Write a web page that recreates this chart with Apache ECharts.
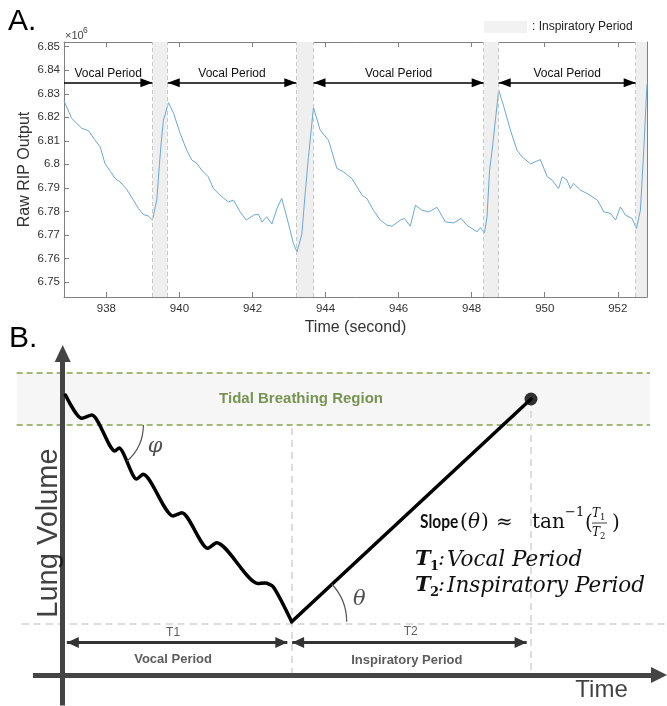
<!DOCTYPE html>
<html>
<head>
<meta charset="utf-8">
<title>RIP output and lung volume schematic</title>
<script src="https://cdn.jsdelivr.net/npm/echarts@6.0.0/dist/echarts.min.js"></script>
<style>
html, body { margin: 0; padding: 0; background: #fff; }
#chart { width: 667px; height: 706px; }
</style>
</head>
<body>
<div id="chart"></div>
<script>
// ---------------- Panel A data (x10^6) ----------------
const ripTime = [936.84, 937.05, 937.33, 937.51, 937.69, 937.83, 937.96, 938.24, 938.37, 938.56,
  938.74, 938.88, 939.01, 939.15, 939.26, 939.38, 939.45, 939.50, 939.56, 939.70,
  939.84, 940.02, 940.20, 940.34, 940.48, 940.61, 940.79, 940.93, 941.11, 941.34,
  941.48, 941.66, 941.83, 942.03, 942.16, 942.26, 942.39, 942.53, 942.67, 942.80,
  942.90, 943.03, 943.12, 943.22, 943.35, 943.44, 943.53, 943.67, 943.85, 944.08,
  944.31, 944.49, 944.72, 945.00, 945.13, 945.31, 945.50, 945.68, 945.82, 946.05,
  946.16, 946.32, 946.46, 946.64, 946.82, 946.91, 947.05, 947.28, 947.51, 947.71,
  947.87, 948.15, 948.24, 948.35, 948.42, 948.49, 948.56, 948.74, 948.88, 949.06,
  949.24, 949.38, 949.61, 949.88, 950.07, 950.20, 950.38, 950.48, 950.61, 950.70,
  950.79, 950.98, 951.16, 951.44, 951.62, 951.80, 951.94, 952.07, 952.21, 952.39,
  952.51, 952.62, 952.71, 952.80];
const ripValue = [6.8270, 6.8195, 6.8153, 6.8143, 6.8103, 6.8074, 6.8004, 6.7940, 6.7926, 6.7893,
  6.7848, 6.7812, 6.7787, 6.7780, 6.7763, 6.7848, 6.7995, 6.8090, 6.8186, 6.8262,
  6.8217, 6.8131, 6.8060, 6.8018, 6.8004, 6.7975, 6.7947, 6.7897, 6.7869, 6.7840,
  6.7848, 6.7798, 6.7763, 6.7784, 6.7788, 6.7755, 6.7777, 6.7746, 6.7812, 6.7855,
  6.7798, 6.7720, 6.7663, 6.7628, 6.7702, 6.7872, 6.8028, 6.8242, 6.8146, 6.8103,
  6.7983, 6.7968, 6.7940, 6.7869, 6.7855, 6.7805, 6.7763, 6.7741, 6.7737, 6.7763,
  6.7770, 6.7737, 6.7826, 6.7805, 6.7798, 6.7805, 6.7817, 6.7755, 6.7751, 6.7770,
  6.7741, 6.7713, 6.7731, 6.7709, 6.7776, 6.7975, 6.8060, 6.8316, 6.8245, 6.8146,
  6.8060, 6.8032, 6.8002, 6.8020, 6.7947, 6.7933, 6.7897, 6.7947, 6.7933, 6.7897,
  6.7919, 6.7890, 6.7876, 6.7848, 6.7798, 6.7791, 6.7763, 6.7819, 6.7784, 6.7770,
  6.7727, 6.7805, 6.8060, 6.8340];
const inspStart = [939.26, 943.20, 948.33, 952.49];
const inspEnd = [939.68, 943.67, 948.74, 952.80];
const vocalStart = [936.84, 939.68, 943.67, 948.74];
const vocalEnd = [939.26, 943.20, 948.33, 952.49];
const vocalLevel = 6.8347;
const xTickValues = [938, 940, 942, 944, 946, 948, 950, 952];
const yTickValues = [6.75, 6.76, 6.77, 6.78, 6.79, 6.80, 6.81, 6.82, 6.83, 6.84, 6.85];
const xRangeA = [936.84, 952.80];
const yRangeA = [6.7436, 6.852];

// ---------------- Panel B schematic (arbitrary time / volume units) ----------------
const descentT = [0.12, 0.83, 1.27, 2.28, 2.46, 3.23, 3.51, 4.82, 5.20, 6.34, 6.72, 8.53, 8.83, 9.20, 10.0];
const descentV = [28.0, 25.67, 26.0, 22.4, 22.7, 19.6, 20.07, 15.9, 16.23, 12.67, 13.23, 9.15, 9.2, 8.8, 5.33];
const inhaleT = [10.0, 20.45];
const inhaleV = [5.33, 27.6];
const tidalBand = [25.0, 30.23];
const t1Span = [0.18, 9.81];
const t2Span = [10.02, 20.26];
const spanLevel = 3.25;
const baselineV = 5.17;
const xRangeB = [-2.738, 26.39];
const yRangeB = [-3.1, 33.5];

// ---------------- build ----------------
const sans = 'Liberation Sans';
const serif = 'DejaVu Serif';
const axisGray = '#808080';
const ripData = ripTime.map((t, i) => [t, ripValue[i]]);
const descentData = descentT.map((t, i) => [t, descentV[i]]);
const inhaleData = inhaleT.map((t, i) => [t, inhaleV[i]]);

const headA = { symbol: 'triangle', symbolSize: [9, 12], symbolOffset: [0, '50%'] };
const vocalLines = vocalStart.map((s, i) => [
  Object.assign({ coord: [s, vocalLevel] }, i === 0 ? { symbol: 'none' } : headA),
  Object.assign({ coord: [vocalEnd[i], vocalLevel] }, headA, {
    lineStyle: { color: '#000', width: 1.5, type: 'solid' },
    label: { show: true, position: 'middle', formatter: 'Vocal Period', color: '#111', fontSize: 12, fontFamily: sans, distance: 3 }
  })
]);
const edgeLines = inspStart.concat(inspEnd.slice(0, 3)).map(v => ({
  xAxis: v, symbol: 'none',
  lineStyle: { color: '#c8c8c8', width: 1, type: [4, 3] },
  label: { show: false }
}));
const bands = inspStart.map((s, i) => [{ xAxis: s }, { xAxis: inspEnd[i] }]);

const greenDash = { color: '#86a34a', width: 1.5, type: [6, 4] };
const grayDash = { color: '#d2d2d2', width: 1.5, type: [7, 5] };
const headB = { symbol: 'triangle', symbolSize: [11, 12], symbolOffset: [0, '50%'] };
const spanStyle = { color: '#333', width: 3.2, type: 'solid' };
const axisB = { color: '#444', width: 5, type: 'solid' };

const bMarkLines = [
  [{ coord: [-2.01, tidalBand[0]] }, { coord: [25.65, tidalBand[0]], lineStyle: greenDash }],
  [{ coord: [-2.01, tidalBand[1]] }, { coord: [25.65, tidalBand[1]], lineStyle: greenDash }],
  [{ coord: [-1.79, baselineV] }, { coord: [26.35, baselineV], lineStyle: grayDash }],
  [{ coord: [inhaleT[0], 24.7] }, { coord: [inhaleT[0], 0], lineStyle: grayDash }],
  [{ coord: [inhaleT[1], inhaleV[1]] }, { coord: [inhaleT[1], 0], lineStyle: grayDash }],
  [Object.assign({ coord: [t1Span[0], spanLevel] }, headB), Object.assign({ coord: [t1Span[1], spanLevel], lineStyle: spanStyle }, headB)],
  [Object.assign({ coord: [t2Span[0], spanLevel] }, headB), Object.assign({ coord: [t2Span[1], spanLevel], lineStyle: spanStyle }, headB)],
  [{ coord: [-1.30, 0], symbol: 'none' }, { coord: [25.69, 0], symbol: 'triangle', symbolSize: [16, 16], symbolOffset: [0, '-50%'], lineStyle: axisB }],
  [{ coord: [0, -3.05], symbol: 'none' }, { coord: [0, 31.3], symbol: 'triangle', symbolSize: [16, 17], symbolOffset: [0, '-50%'], lineStyle: axisB }]
];

function lbl(x, y, text, style) {
  return { value: [x, y], label: Object.assign({ show: true, position: 'inside', formatter: text }, style) };
}
const bLabels = [
  lbl(10.41, 27.6, 'Tidal Breathing Region', { color: '#587a28', fontWeight: 'bold', fontSize: 15, fontFamily: sans }),
  lbl(4.03, 22.8, 'φ', { color: '#222', fontStyle: 'italic', fontSize: 21, fontFamily: serif }),
  lbl(12.95, 7.5, 'θ', { color: '#222', fontStyle: 'italic', fontSize: 21, fontFamily: serif }),
  lbl(4.82, 4.27, 'T1', { color: '#333', fontSize: 12, fontFamily: sans }),
  lbl(15.2, 4.3, 'T2', { color: '#333', fontSize: 12, fontFamily: sans }),
  lbl(4.82, 1.6, 'Vocal Period', { color: '#333', fontWeight: 'bold', fontSize: 13, fontFamily: sans }),
  lbl(15.03, 1.43, 'Inspiratory Period', { color: '#333', fontWeight: 'bold', fontSize: 13, fontFamily: sans }),
  lbl(23.53, -1.5, 'Time', { color: '#111', fontSize: 24, fontFamily: sans }),
  lbl(-0.6, 14.2, 'Lung Volume', { color: '#111', fontSize: 29, fontFamily: sans, rotate: 90 })
];

const option = {
  animation: false,
  backgroundColor: '#fff',
  textStyle: { fontFamily: sans },
  grid: [
    { left: 64, top: 42, width: 583, height: 255, show: false },
    { left: 0, top: 340, width: 667, height: 366, show: false }
  ],
  legend: {
    data: [{ name: ': Inspiratory Period', icon: 'rect' }],
    left: 484, top: 21, itemWidth: 43, itemHeight: 12, padding: 0, selectedMode: false,
    textStyle: { fontFamily: sans, fontSize: 12, color: '#222' }
  },
  xAxis: [
    {
      gridIndex: 0, type: 'value', min: xRangeA[0], max: xRangeA[1], position: 'bottom',
      axisLine: { show: true, onZero: false, lineStyle: { color: axisGray, width: 1 } },
      axisTick: { show: true, inside: true, length: 5, customValues: xTickValues, lineStyle: { color: axisGray } },
      axisLabel: { customValues: xTickValues, color: '#333', fontSize: 11.5, margin: 6, fontFamily: sans },
      splitLine: { show: false },
      name: 'Time (second)', nameLocation: 'middle', nameGap: 23,
      nameTextStyle: { fontSize: 16, color: '#333', fontFamily: sans }
    },
    {
      gridIndex: 0, type: 'value', min: xRangeA[0], max: xRangeA[1], position: 'top',
      axisLine: { show: true, onZero: false, lineStyle: { color: axisGray, width: 1 } },
      axisTick: { show: true, inside: true, length: 5, customValues: xTickValues, lineStyle: { color: axisGray } },
      axisLabel: { show: false }, splitLine: { show: false }
    },
    { gridIndex: 1, type: 'value', min: xRangeB[0], max: xRangeB[1], show: false }
  ],
  yAxis: [
    {
      gridIndex: 0, type: 'value', min: yRangeA[0], max: yRangeA[1], position: 'left',
      axisLine: { show: true, onZero: false, lineStyle: { color: axisGray, width: 1 } },
      axisTick: { show: true, inside: true, length: 5, customValues: yTickValues, lineStyle: { color: axisGray } },
      axisLabel: { customValues: yTickValues, color: '#333', fontSize: 11.5, margin: 4, fontFamily: sans,
        formatter: v => String(+v.toFixed(2)) },
      splitLine: { show: false },
      name: 'Raw RIP Output', nameLocation: 'middle', nameGap: 31, nameMoveOverlap: false,
      nameTextStyle: { fontSize: 16, color: '#333', fontFamily: sans }
    },
    {
      gridIndex: 0, type: 'value', min: yRangeA[0], max: yRangeA[1], position: 'right',
      axisLine: { show: true, onZero: false, lineStyle: { color: axisGray, width: 1 } },
      axisTick: { show: true, inside: true, length: 5, customValues: yTickValues, lineStyle: { color: axisGray } },
      axisLabel: { show: false }, splitLine: { show: false }
    },
    { gridIndex: 1, type: 'value', min: yRangeB[0], max: yRangeB[1], show: false }
  ],
  series: [
    {
      type: 'line', name: 'Raw RIP', xAxisIndex: 0, yAxisIndex: 0, data: ripData,
      symbol: 'none', showSymbol: false, silent: true, z: 3,
      lineStyle: { color: '#6aa9d5', width: 1 },
      markLine: { silent: true, symbol: ['none', 'none'], label: { show: false }, data: edgeLines.concat(vocalLines) }
    },
    {
      type: 'scatter', name: ': Inspiratory Period', xAxisIndex: 0, yAxisIndex: 0, data: [],
      itemStyle: { color: '#efefef' }, silent: true,
      markArea: { silent: true, itemStyle: { color: '#efefef' }, data: bands }
    },
    {
      type: 'line', name: 'schematic-guides', xAxisIndex: 2, yAxisIndex: 2, data: [], silent: true,
      markArea: { silent: true, itemStyle: { color: '#f6f6f6' }, data: [[{ coord: [-2.01, tidalBand[0]] }, { coord: [25.65, tidalBand[1]] }]] },
      markLine: { silent: true, symbol: ['none', 'none'], label: { show: false }, data: bMarkLines }
    },
    {
      type: 'line', name: 'vocal', xAxisIndex: 2, yAxisIndex: 2, data: descentData, smooth: 0.25,
      symbol: 'none', silent: true, z: 10, lineStyle: { color: '#000', width: 3.5, cap: 'round', join: 'round' }
    },
    {
      type: 'line', name: 'inhale', xAxisIndex: 2, yAxisIndex: 2, data: inhaleData,
      symbol: 'none', silent: true, z: 10, lineStyle: { color: '#000', width: 3.5, cap: 'round' }
    },
    {
      type: 'scatter', name: 'end', xAxisIndex: 2, yAxisIndex: 2, data: [inhaleData[1]],
      symbolSize: 13, silent: true, z: 11, itemStyle: { color: '#000' }
    },
    {
      type: 'scatter', name: 'labels', xAxisIndex: 2, yAxisIndex: 2, data: bLabels,
      symbolSize: 1, silent: true, z: 12, itemStyle: { color: 'rgba(0,0,0,0)' }
    }
  ]
};

const chart = echarts.init(document.getElementById('chart'));
chart.setOption(option);

// geometry-derived annotations (arcs) positioned through the axes
const P = (x, y) => chart.convertToPixel({ xAxisIndex: 2, yAxisIndex: 2 }, [x, y]);
const vMin = P(inhaleT[0], inhaleV[0]);
const vTop = P(inhaleT[1], inhaleV[1]);
const thetaAng = Math.atan2(vTop[1] - vMin[1], vTop[0] - vMin[0]);
const s0 = P(descentT[0], descentV[0]);
const lowPx = P(0, tidalBand[0])[1];
const dDir = Math.atan2(vMin[1] - s0[1], vMin[0] - s0[0]);
const phiCx = s0[0] + (lowPx - s0[1]) / Math.tan(dDir);

function txt(x, y, text, font, extra, el) {
  return Object.assign({ type: 'text', x: x, y: y, silent: true, z: 20,
    style: Object.assign({ text: text, font: font, fill: '#111', align: 'left', verticalAlign: 'middle' }, extra || {}) }, el || {});
}
const mathF = '20px DejaVu Serif';
const mathI = 'italic 20px DejaVu Serif';
chart.setOption({
  graphic: [
    txt(8, 22, 'A.', '30px Liberation Sans', { fill: '#000' }),
    txt(9, 339, 'B.', '30px Liberation Sans', { fill: '#000' }),
    txt(65, 36, '×10', '11px Liberation Sans', { fill: '#444' }),
    txt(83, 31, '6', '8.5px Liberation Sans', { fill: '#444' }),
    { type: 'arc', silent: true, z: 20, shape: { cx: vMin[0], cy: vMin[1], r: 55, startAngle: thetaAng, endAngle: 0, clockwise: true },
      style: { stroke: '#555', lineWidth: 1.2, fill: 'none' } },
    { type: 'arc', silent: true, z: 20, shape: { cx: phiCx, cy: lowPx, r: 48, startAngle: 0, endAngle: dDir + 0.07, clockwise: true },
      style: { stroke: '#555', lineWidth: 1.2, fill: 'none' } },
    // formula
    txt(420, 522, 'Slope', 'bold 18.5px Lato', null, { scaleX: 0.84 }),
    txt(460, 523, '(', mathF),
    txt(468, 523, 'θ', mathI),
    txt(481, 523, ')', mathF),
    txt(496, 523, '≈', mathF),
    txt(532, 523, 'tan', mathF),
    txt(565, 513, '−1', '13px DejaVu Serif'),
    txt(585, 524, '(', mathF),
    txt(592, 514, 'T', 'italic 12px DejaVu Serif'),
    txt(600, 518, '1', '8.5px DejaVu Serif'),
    { type: 'line', silent: true, z: 20, shape: { x1: 592, y1: 523, x2: 607, y2: 523 }, style: { stroke: '#111', lineWidth: 0.8 } },
    txt(592, 533, 'T', 'italic 12px DejaVu Serif'),
    txt(600, 537, '2', '8.5px DejaVu Serif'),
    txt(612, 524, ')', mathF),
    // definitions
    txt(415, 560, 'T', 'bold italic 21px DejaVu Serif'),
    txt(430, 567, '1', 'bold 13px DejaVu Serif'),
    txt(438, 560, ':', 'italic 21px DejaVu Serif'),
    txt(447, 560, 'Vocal Period', 'italic 21.5px DejaVu Serif'),
    txt(415, 586, 'T', 'bold italic 21px DejaVu Serif'),
    txt(430, 593, '2', 'bold 13px DejaVu Serif'),
    txt(438, 586, ':', 'italic 21px DejaVu Serif'),
    txt(447, 586, 'Inspiratory Period', 'italic 21.5px DejaVu Serif')
  ]
});
</script>
</body>
</html>
